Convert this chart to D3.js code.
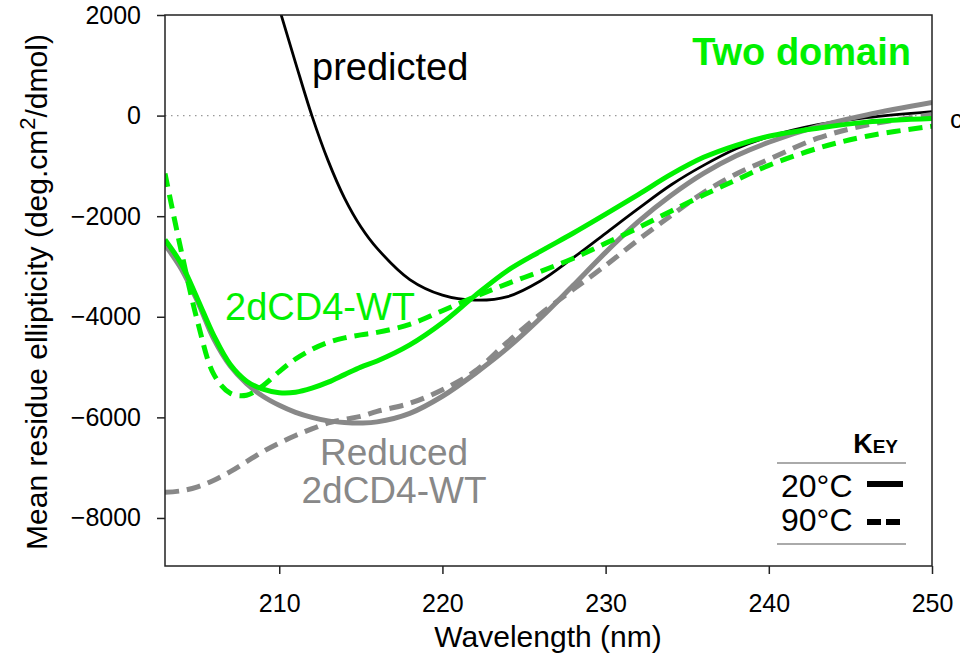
<!DOCTYPE html>
<html>
<head>
<meta charset="utf-8">
<script src="https://cdn.jsdelivr.net/npm/d3@7"></script>
<style>
  body { margin: 0; background: #fff; }
  svg { display: block; font-family: Arial, "Liberation Sans", sans-serif; }
</style>
</head>
<body>
<svg id="chart" width="960" height="658"></svg>
<script>
// wavelength grid (nm) shared by all traces
const wavelengths = [203, 204, 205, 206, 207, 208, 209, 210, 211, 212, 213, 214, 215, 216,
  218, 220, 222, 224, 226, 228, 230, 232, 234, 236, 238, 240, 243, 246, 250];

// mean residue ellipticity
const predicted = [null, null, null, null, null, null, 3230, 2130, 1050, 0, -900, -1640, -2210, -2640,
  -3260, -3570, -3670, -3600, -3290, -2830, -2340, -1850, -1380, -990, -660, -420, -180, -40, 80];
const wt20 = [-2470, -2950, -3650, -4380, -4950, -5280, -5440, -5510, -5500, -5420, -5300, -5150, -5000, -4880,
  -4560, -4120, -3580, -3080, -2700, -2340, -1960, -1570, -1170, -830, -590, -410, -250, -130, -60];
const wt90 = [-1150, -2700, -4100, -5150, -5520, -5560, -5370, -5090, -4840, -4650, -4510, -4420, -4360, -4310,
  -4150, -3880, -3600, -3340, -3100, -2840, -2540, -2230, -1900, -1580, -1280, -990, -650, -410, -210];
const red20 = [-2570, -3050, -3700, -4450, -4980, -5330, -5580, -5760, -5900, -6000, -6070, -6100, -6110, -6090,
  -5920, -5580, -5130, -4620, -4030, -3380, -2720, -2110, -1590, -1150, -800, -530, -215, 15, 260];
const red90 = [-7490, -7460, -7380, -7250, -7080, -6880, -6680, -6510, -6360, -6230, -6110, -6040, -5980, -5880,
  -5720, -5450, -5080, -4500, -3950, -3460, -2980, -2470, -1990, -1530, -1160, -870, -450, -190, 20];

const xTicks = [210, 220, 230, 240, 250];
const yTicks = [2000, 0, -2000, -4000, -6000, -8000];

const green = "#00f000";
const grey = "#888888";

const svg = d3.select("#chart");
const margin = { left: 165, right: 28, top: 15, bottom: 92 };
const W = 960, H = 658;

const x = d3.scaleLinear().domain([203, 250]).range([margin.left, W - margin.right]);
const y = d3.scaleLinear().domain([-8955, 2000]).range([H - margin.bottom, margin.top]);

svg.append("clipPath").attr("id", "plot")
  .append("rect")
  .attr("x", x(203)).attr("y", y(2000))
  .attr("width", x(250) - x(203)).attr("height", y(-8955) - y(2000));

// zero reference
svg.append("line")
  .attr("x1", x(203)).attr("x2", x(250))
  .attr("y1", y(0)).attr("y2", y(0))
  .attr("stroke", "#999").attr("stroke-width", 1.2)
  .attr("stroke-dasharray", "1.5,4.5");

const line = (vals) => d3.line()
  .defined((d, i) => vals[i] != null)
  .x((d) => x(d))
  .y((d, i) => y(vals[i]))
  .curve(d3.curveCatmullRom)(wavelengths);

const traces = [
  { vals: predicted, color: "#000", width: 2.8, dash: null },
  { vals: red90, color: grey, width: 5, dash: "14,8" },
  { vals: red20, color: grey, width: 5, dash: null },
  { vals: wt90, color: green, width: 5, dash: "14,8" },
  { vals: wt20, color: green, width: 5, dash: null },
];

const g = svg.append("g").attr("clip-path", "url(#plot)");
traces.forEach((t) => {
  g.append("path")
    .attr("d", line(t.vals))
    .attr("fill", "none")
    .attr("stroke", t.color)
    .attr("stroke-width", t.width)
    .attr("stroke-dasharray", t.dash);
});

// axes
const xAxis = svg.append("g")
  .attr("transform", "translate(0," + y(-8955) + ")")
  .call(d3.axisBottom(x).tickValues(xTicks).tickSize(8).tickPadding(20).tickFormat(d3.format("d")));
const yAxis = svg.append("g")
  .attr("transform", "translate(" + x(203) + ",0)")
  .call(d3.axisLeft(y).tickValues(yTicks).tickSize(8).tickPadding(16).tickFormat(d3.format("d")));
[xAxis, yAxis].forEach((a) => {
  a.select(".domain").remove();
  a.selectAll(".tick line").attr("stroke", "#222").attr("stroke-width", 1.5);
  a.selectAll(".tick text").attr("fill", "#000").style("font-size", "25px")
    .style("font-family", "Arial, 'Liberation Sans', sans-serif");
});

// frame
svg.append("rect")
  .attr("x", x(203)).attr("y", y(2000))
  .attr("width", x(250) - x(203)).attr("height", y(-8955) - y(2000))
  .attr("fill", "none").attr("stroke", "#222").attr("stroke-width", 1.5);

// axis titles
svg.append("text")
  .attr("x", 548).attr("y", 647)
  .attr("text-anchor", "middle")
  .style("font-size", "30px")
  .text("Wavelength (nm)");

const yt = svg.append("text")
  .attr("transform", "translate(47,292) rotate(-90)")
  .attr("text-anchor", "middle")
  .style("font-size", "30px");
yt.append("tspan").text("Mean residue ellipticity (deg.cm");
yt.append("tspan").attr("dy", -12).style("font-size", "22px").text("2");
yt.append("tspan").attr("dy", 12).text("/dmol)");

// annotations
svg.append("text").attr("x", 312).attr("y", 80)
  .style("font-size", "38px").text("predicted");
svg.append("text").attr("x", 911).attr("y", 65)
  .attr("text-anchor", "end").attr("fill", green)
  .style("font-size", "38px").style("font-weight", "bold").text("Two domain");
svg.append("text").attr("x", 225).attr("y", 320)
  .attr("fill", green).style("font-size", "38px").text("2dCD4-WT");
svg.append("text").attr("x", 394).attr("y", 465)
  .attr("text-anchor", "middle").attr("fill", grey)
  .style("font-size", "37px").text("Reduced");
svg.append("text").attr("x", 394).attr("y", 503)
  .attr("text-anchor", "middle").attr("fill", grey)
  .style("font-size", "37px").text("2dCD4-WT");
svg.append("text").attr("x", 950).attr("y", 128)
  .style("font-size", "26px").text("c");

// key
const key = svg.append("g");
const kt = key.append("text").attr("x", 898).attr("y", 453)
  .attr("text-anchor", "end").style("font-weight", "bold");
kt.append("tspan").style("font-size", "27px").text("K");
kt.append("tspan").style("font-size", "19px").text("EY");
[463, 544].forEach((yy) => {
  key.append("line").attr("x1", 777).attr("x2", 906).attr("y1", yy).attr("y2", yy)
    .attr("stroke", "#aaa").attr("stroke-width", 2);
});
const keyRows = [
  { label: "20°C", base: 497, mid: 484, dash: null },
  { label: "90°C", base: 531, mid: 522, dash: "14,5" },
];
keyRows.forEach((r) => {
  key.append("text").attr("x", 781).attr("y", r.base)
    .style("font-size", "32px").text(r.label);
  key.append("line").attr("x1", 867).attr("x2", 903).attr("y1", r.mid).attr("y2", r.mid)
    .attr("stroke", "#000").attr("stroke-width", 6)
    .attr("stroke-dasharray", r.dash);
});
</script>
</body>
</html>
